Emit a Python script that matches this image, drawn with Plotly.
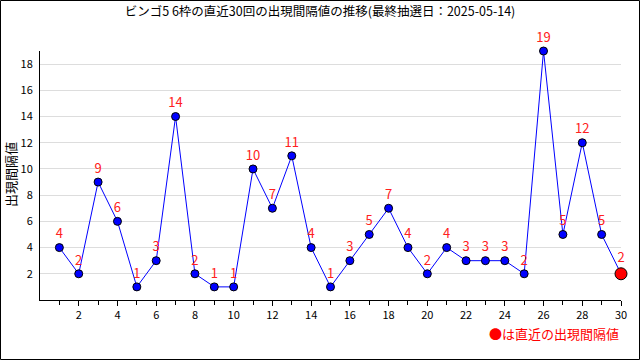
import plotly.graph_objects as go

draws = list(range(1, 31))
intervals = [4, 2, 9, 6, 1, 3, 14, 2, 1, 1, 10, 7, 11, 4, 1, 3, 5, 7, 4, 2, 4, 3, 3, 3, 2, 19, 5, 12, 5, 2]
title_text = "ビンゴ5 6枠の直近30回の出現間隔値の推移(最終抽選日：2025-05-14)"
y_title = "出現間隔値"
note_text = "●は直近の出現間隔値"
x_tickvals = list(range(2, 31, 2))
y_tickvals = list(range(2, 19, 2))

FONT = "Noto Sans CJK JP, DejaVu Sans, sans-serif"

fig = go.Figure()
fig.add_trace(go.Scatter(
    x=draws, y=intervals,
    mode="lines+markers+text",
    line=dict(color="#0000ff", width=1),
    marker=dict(color=["#0000ff"] * (len(draws) - 1) + ["#ff0000"],
                size=[8] * (len(draws) - 1) + [12],
                opacity=1,
                line=dict(color="black", width=1)),
    text=[str(v) for v in intervals],
    textposition="top center",
    textfont=dict(color="#ff2020", size=13, family=FONT),
    cliponaxis=False,
    hoverinfo="skip",
))

W, H = 640, 360
ml, mr, mt, mb = 40, 19, 51, 60
pw, ph = W - ml - mr, H - mt - mb

fig.update_layout(
    width=W, height=H,
    autosize=False,
    margin=dict(l=ml, r=mr, t=mt, b=mb, autoexpand=False),
    paper_bgcolor="white", plot_bgcolor="white",
    showlegend=False,
    font=dict(family=FONT, size=11, color="black"),
    title=dict(text=title_text, x=0.5, xanchor="center", y=1 - 12 / H, yanchor="middle",
               font=dict(size=12.5, family=FONT, color="black")),
    xaxis=dict(range=[0, 30], tickvals=x_tickvals, ticks="outside", ticklen=5,
               tickcolor="black", showline=True, linecolor="black", linewidth=1,
               showgrid=False, zeroline=False, automargin=False,
               minor=dict(tickvals=draws, ticks="outside", ticklen=4, tickcolor="black"),
               tickfont=dict(size=11)),
    yaxis=dict(range=[0, 19], tickvals=y_tickvals, ticks="", showline=True,
               linecolor="black", linewidth=1, showgrid=True, gridcolor="#dddddd",
               zeroline=False, automargin=False, tickfont=dict(size=11),
               ticklabelstandoff=4),
)

fig.add_annotation(text=y_title, xref="paper", yref="paper",
                   x=(10 - ml) / pw, xanchor="center", y=(300 - 175) / ph, yanchor="middle",
                   textangle=-90, showarrow=False, font=dict(size=13, family=FONT, color="black"))

fig.add_annotation(text=note_text, xref="paper", yref="paper",
                   x=1.0, xanchor="right", y=-(333 - 300) / ph, yanchor="middle",
                   showarrow=False, font=dict(color="#ff0000", size=13, family=FONT))

fig.add_shape(type="rect", xref="paper", yref="paper",
              x0=(0.5 - ml) / pw, x1=(W - 0.5 - ml) / pw,
              y0=-(H - 0.5 - mt - ph) / ph, y1=1 + (mt - 0.5) / ph,
              line=dict(color="black", width=1), layer="below")

fig.write_html("out.html", config={"displayModeBar": False, "staticPlot": True},
               post_script="document.body.style.margin='0';document.body.style.overflow='hidden';")
